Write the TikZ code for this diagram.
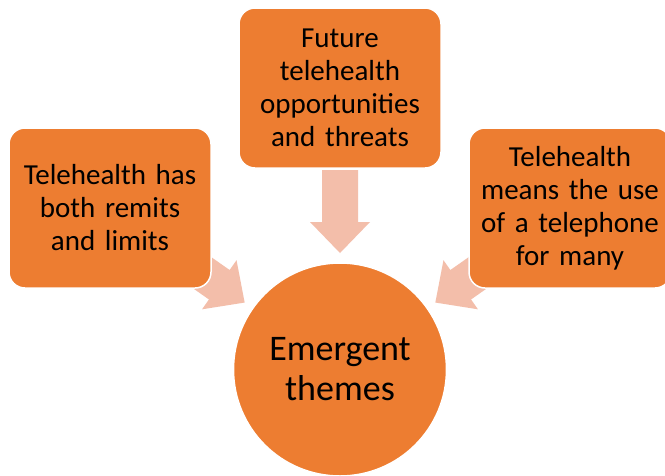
\documentclass[tikz,border=0pt]{standalone}
\usepackage{fontspec}
\setmainfont{Carlito}
\usetikzlibrary{calc}
\definecolor{boxorange}{RGB}{237,125,49}
\definecolor{arrowpeach}{RGB}{243,190,170}
\tikzset{
  themebox/.style={draw=white, line width=1.5pt, fill=boxorange, rounded corners=16pt,
    minimum width=202pt, minimum height=160pt, text width=196pt, align=center,
    inner sep=0pt, font=\fontsize{29}{33}\selectfont, text=black},
  hubcircle/.style={circle, draw=white, line width=1.5pt, fill=boxorange,
    minimum size=213pt, inner sep=0pt, align=center,
    font=\fontsize{36}{40}\selectfont, text=black},
  convarrowstyle/.style={fill=arrowpeach, draw=none}
}
\newcommand\convarrow[2]{%
  \path
    coordinate (tip#1) at ($(#2.center)!116.5pt!(#1.center)$)
    coordinate (tail#1) at ($(#2.center)!199.5pt!(#1.center)$)
    coordinate (hb#1) at ($(tip#1)!31pt!(tail#1)$);
  \fill[convarrowstyle]
    ($(tail#1)!18pt!90:(tip#1)$) --
    ($(hb#1)!18pt!90:(tip#1)$) --
    ($(hb#1)!30pt!90:(tip#1)$) --
    (tip#1) --
    ($(hb#1)!30pt!-90:(tip#1)$) --
    ($(hb#1)!18pt!-90:(tip#1)$) --
    ($(tail#1)!18pt!-90:(tip#1)$) -- cycle;
}
\begin{document}
\begin{tikzpicture}[x=1pt,y=-1pt]
\fill[white] (0,0) rectangle (665,475);
\useasboundingbox (0,0) rectangle (665,475);
\coordinate (Lc) at (110,208);
\coordinate (Tc) at (340,88);
\coordinate (Rc) at (570,208);
\coordinate (Cc) at (340,369.5);
\convarrow{Lc}{Cc}
\convarrow{Tc}{Cc}
\convarrow{Rc}{Cc}
\node[themebox] (left) at (Lc) {Telehealth has\\both remits\\and limits};
\node[themebox] (top) at (Tc) {Future\\telehealth\\opportunities\\and threats};
\node[themebox] (right) at (Rc) {Telehealth\\means the use\\of a telephone\\for many};
\node[hubcircle] (hub) at (Cc) {Emergent\\themes};
\end{tikzpicture}
\end{document}
